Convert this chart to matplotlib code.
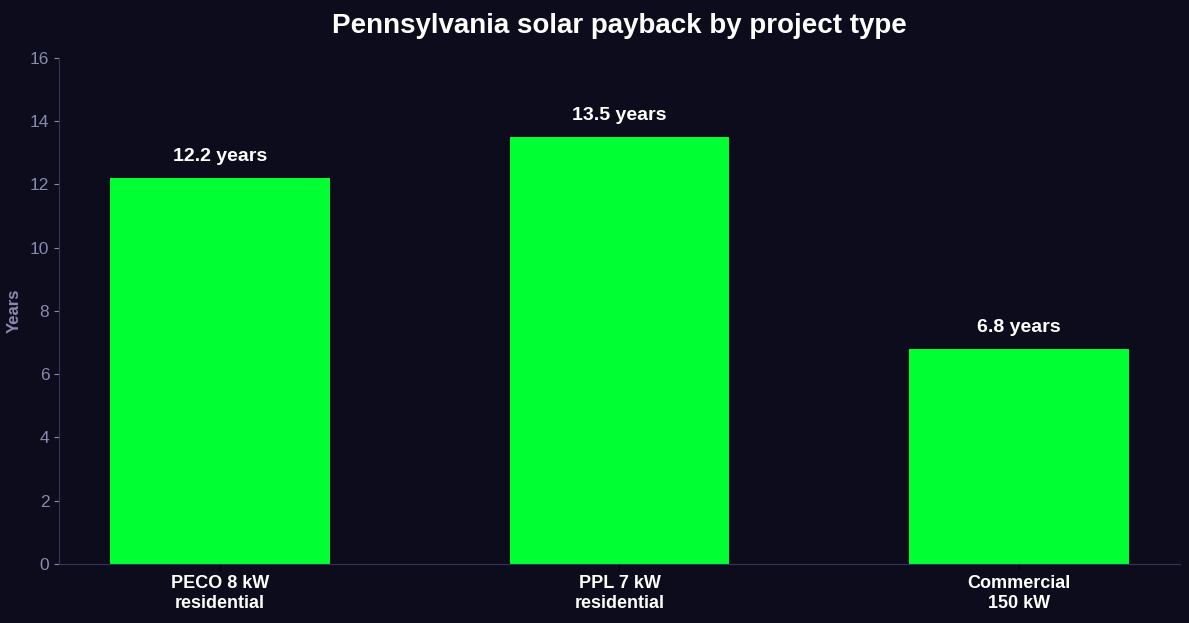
import matplotlib
matplotlib.use("Agg")
import matplotlib.pyplot as plt

plt.rcParams["font.family"] = ["Liberation Sans", "DejaVu Sans"]

# Data
PROJECTS = ["PECO 8 kW\nresidential", "PPL 7 kW\nresidential", "Commercial\n150 kW"]
PAYBACK_YEARS = [12.2, 13.5, 6.8]

BG = "#0c0c1c"
BAR_COLOR = "#00ff33"
MUTED = "#8a8ab0"
SPINE = "#35355a"

fig = plt.figure(figsize=(11.89, 6.23), dpi=100, facecolor=BG)
ax = fig.add_axes([0.0496, 0.0947, 0.9428, 0.8123])
ax.set_facecolor(BG)

x = range(len(PROJECTS))
bars = ax.bar(x, PAYBACK_YEARS, width=0.55, color=BAR_COLOR)

for bar, val in zip(bars, PAYBACK_YEARS):
    ax.text(bar.get_x() + bar.get_width() / 2, val + 0.4, f"{val} years",
            ha="center", va="bottom", color="white", fontsize=14, fontweight="bold")

ax.set_ylim(0, 16)
ax.set_yticks(range(0, 17, 2))
ax.set_xticks(list(x))
ax.set_xticklabels(PROJECTS, fontsize=13, fontweight="bold", linespacing=1.2)
ax.tick_params(axis="x", colors="black", length=4, pad=4)
for lbl in ax.get_xticklabels():
    lbl.set_color("white")
ax.tick_params(axis="y", colors=MUTED, labelsize=12.5)

ax.set_ylabel("Years", color=MUTED, fontsize=12, fontweight="bold", labelpad=6)
ax.set_title("Pennsylvania solar payback by project type", color="white",
             fontsize=20, fontweight="bold", pad=18)

for side in ["top", "right"]:
    ax.spines[side].set_visible(False)
for side in ["left", "bottom"]:
    ax.spines[side].set_color(SPINE)

fig.savefig("out.png", dpi=100, facecolor=BG)
